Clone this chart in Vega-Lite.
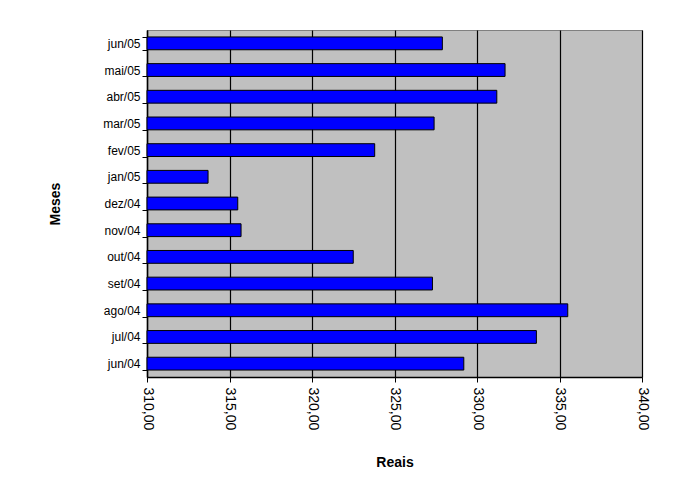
{
  "$schema": "https://vega.github.io/schema/vega-lite/v6.json",
  "width": 495,
  "height": 347,
  "autosize": {"type": "none"},
  "padding": {"left": 147, "top": 30, "right": 46, "bottom": 122},
  "background": "white",
  "config": {
    "font": "Liberation Sans",
    "view": {"fill": "#C0C0C0", "stroke": "#808080", "strokeWidth": 1},
    "axis": {
      "labelFont": "Liberation Sans",
      "titleFont": "Liberation Sans",
      "labelColor": "#000000",
      "titleColor": "#000000",
      "domainColor": "#000000",
      "tickColor": "#000000",
      "labelFontSize": 12,
      "titleFontSize": 14,
      "titleFontWeight": "bold"
    }
  },
  "data": {
    "values": [
      {"mes": "jun/05", "valor": 327.9},
      {"mes": "mai/05", "valor": 331.7},
      {"mes": "abr/05", "valor": 331.2},
      {"mes": "mar/05", "valor": 327.4},
      {"mes": "fev/05", "valor": 323.8},
      {"mes": "jan/05", "valor": 313.7},
      {"mes": "dez/04", "valor": 315.5},
      {"mes": "nov/04", "valor": 315.7},
      {"mes": "out/04", "valor": 322.5},
      {"mes": "set/04", "valor": 327.3},
      {"mes": "ago/04", "valor": 335.5},
      {"mes": "jul/04", "valor": 333.6},
      {"mes": "jun/04", "valor": 329.2}
    ]
  },
  "mark": {"type": "bar", "fill": "#0000FF", "stroke": "#000000", "strokeWidth": 1},
  "encoding": {
    "y": {
      "field": "mes",
      "type": "nominal",
      "sort": null,
      "scale": {"paddingInner": 0.52, "paddingOuter": 0.26},
      "axis": {
        "title": "Meses",
        "tickBand": "extent",
        "tickSize": 5,
        "labelPadding": 2,
        "titlePadding": 40,
        "domainWidth": 1.5
      }
    },
    "x": {
      "field": "valor",
      "type": "quantitative",
      "scale": {"domain": [310, 340], "zero": false, "nice": false},
      "axis": {
        "title": "Reais",
        "values": [310, 315, 320, 325, 330, 335, 340],
        "labelExpr": "replace(format(datum.value, '.2f'), '.', ',')",
        "labelAngle": 90,
        "labelAlign": "left",
        "labelBaseline": "middle",
        "labelFontSize": 14,
        "labelPadding": 5,
        "tickSize": 5,
        "grid": true,
        "gridColor": "#000000",
        "gridWidth": 1.2,
        "gridOpacity": 1,
        "titlePadding": 26,
        "domainWidth": 1.5
      }
    },
    "x2": {"datum": 310}
  }
}
